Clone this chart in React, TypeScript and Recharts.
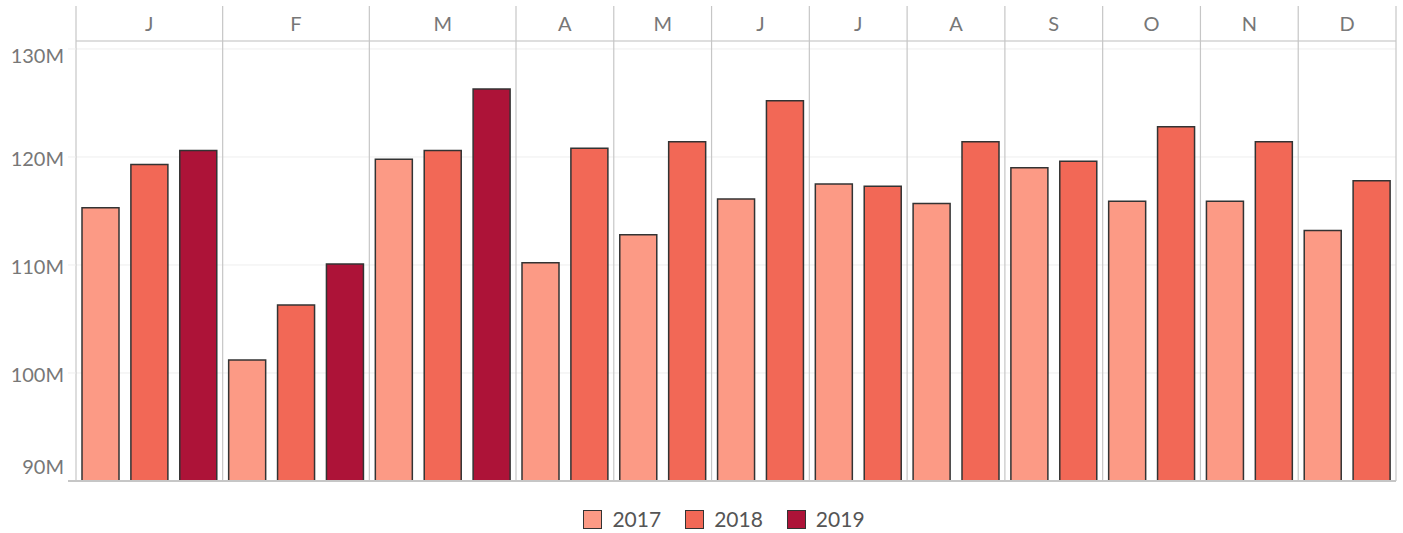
import { BarChart, Bar, XAxis, YAxis, CartesianGrid, ReferenceLine, Legend, Cell } from 'recharts';

// monthly sales, millions
const MONTHS = ['J', 'F', 'M', 'A', 'M', 'J', 'J', 'A', 'S', 'O', 'N', 'D'];
const YEARS = ['2017', '2018', '2019'];
const SALES_2017 = [115.3, 101.2, 119.8, 110.2, 112.8, 116.1, 117.5, 115.7, 119.0, 115.9, 115.9, 113.2];
const SALES_2018 = [119.3, 106.3, 120.6, 120.8, 121.4, 125.2, 117.3, 121.4, 119.6, 122.8, 121.4, 117.8];
const SALES_2019 = [120.6, 110.1, 126.3];
const Y_TICKS = [90, 100, 110, 120, 130];
const Y_MAX = 130.74;

const YEAR_COLORS = ['#FC9A85', '#F26856', '#AD1338'];
const GRID = '#eeeeee';
const DIVIDER = '#c6c6c6';
const TEXT = '#777777';

const W = 1403;
const H = 533;
const HEADER_TOP = 6;
const PLOT_TOP = 41;
const PLOT_LEFT = 76;
const PLOT_RIGHT_PAD = 7;
const LEGEND_H = 52;
const PLOT_BOTTOM = H - LEGEND_H;

// one slot per bar, months keep only the years they have
const series = [SALES_2017, SALES_2018, SALES_2019];
type Slot = { key: string; year: number; value: number; month: number; first: boolean; last: boolean; count: number };
const slots: Slot[] = [];
MONTHS.forEach((m, mi) => {
  const present = series.map((vals, yi) => yi).filter(yi => series[yi][mi] != null);
  present.forEach((yi, j) => {
    slots.push({
      key: `${mi}-${yi}`, year: yi, value: series[yi][mi], month: mi,
      first: j === 0, last: j === present.length - 1, count: present.length,
    });
  });
});

const SlotTick = (props: any) => {
  const { x, payload } = props;
  const s = slots.find(d => d.key === payload.value);
  if (!s) return <g />;
  const half = payload.offset || (W - PLOT_LEFT - PLOT_RIGHT_PAD) / slots.length / 2;
  const left = x - half;
  const isEnd = s.last && s.month === MONTHS.length - 1;
  return (
    <g>
      {s.first && (
        <line x1={left} x2={left} y1={HEADER_TOP} y2={PLOT_BOTTOM} stroke={DIVIDER} strokeWidth={1.2} />
      )}
      {isEnd && (
        <line x1={x + half} x2={x + half} y1={HEADER_TOP} y2={PLOT_BOTTOM} stroke={DIVIDER} strokeWidth={1.2} />
      )}
      {s.first && (
        <text x={left + s.count * half} y={(HEADER_TOP + PLOT_TOP) / 2} dy="0.36em" textAnchor="middle" fill={TEXT} fontSize={20}>
          {MONTHS[s.month]}
        </text>
      )}
    </g>
  );
};

const YTick = (props: any) => {
  const { y, payload } = props;
  const v = payload.value;
  const isBase = v === Y_TICKS[0];
  const shift = v === Y_TICKS[Y_TICKS.length - 1] ? 7 : isBase ? -14 : 2;
  return (
    <g>
      <line x1={PLOT_LEFT - 8} x2={PLOT_LEFT} y1={y} y2={y} stroke={isBase ? DIVIDER : GRID} strokeWidth={isBase ? 2 : 1} />
      <text x={64} y={y + shift} dy="0.36em" textAnchor="end" fill={TEXT} fontSize={20}>{`${v}M`}</text>
    </g>
  );
};

const LegendBox = () => (
  <div style={{
    display: 'flex', justifyContent: 'center', gap: 24, height: LEGEND_H, boxSizing: 'border-box',
    paddingTop: 28, paddingLeft: 52,
  }}>
    {YEARS.map((y, i) => (
      <div key={y} style={{ display: 'flex', alignItems: 'center', height: 20 }}>
        <span style={{
          width: 17, height: 17, background: YEAR_COLORS[i], border: '1.5px solid #333', display: 'inline-block',
        }} />
        <span style={{ marginLeft: 10, fontSize: 21, color: '#555', lineHeight: '20px' }}>{y}</span>
      </div>
    ))}
  </div>
);

export default function App() {
  return (
    <div style={{ position: 'absolute', left: 0, top: 0, width: W, height: H, fontFamily: 'Lato, sans-serif', background: '#fff' }}>
      <BarChart width={W} height={H} data={slots} margin={{ top: HEADER_TOP, right: PLOT_RIGHT_PAD, bottom: 0, left: 0 }}>
        <CartesianGrid vertical={false} stroke={GRID} />
        <XAxis
          dataKey="key" orientation="top" height={PLOT_TOP - HEADER_TOP} interval={0}
          tickLine={false} axisLine={{ stroke: DIVIDER, strokeWidth: 1.2 }} tick={SlotTick}
        />
        <YAxis
          domain={[Y_TICKS[0], Y_MAX]} ticks={Y_TICKS} interval={0} width={PLOT_LEFT}
          tickLine={false} axisLine={false} tick={YTick}
        />
        <Bar dataKey="value" barSize={37} stroke="#333" strokeWidth={1.5} isAnimationActive={false}>
          {slots.map(s => <Cell key={s.key} fill={YEAR_COLORS[s.year]} />)}
        </Bar>
        <ReferenceLine y={Y_TICKS[0]} stroke={DIVIDER} strokeWidth={2} />
        <Legend verticalAlign="bottom" height={LEGEND_H} content={LegendBox} />
      </BarChart>
    </div>
  );
}
